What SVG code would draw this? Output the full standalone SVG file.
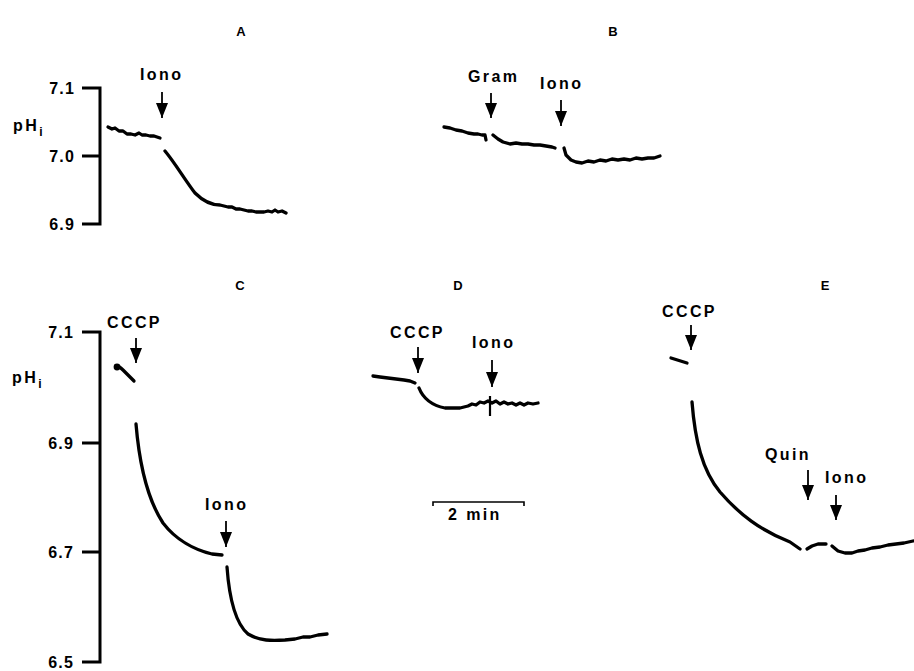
<svg xmlns="http://www.w3.org/2000/svg" width="914" height="671" viewBox="0 0 914 671">
<defs>
<marker id="ah" markerUnits="userSpaceOnUse" viewBox="0 -6 15 12" markerWidth="15" markerHeight="12" refX="15" refY="0" orient="auto">
<path d="M0,-6 L15,0 L0,6 z" fill="#000"/>
</marker>
<style>
.t{font-family:"Liberation Sans",Arial,sans-serif;font-weight:bold;font-size:16px;letter-spacing:2.4px;fill:#000}
.tk{font-family:"Liberation Sans",Arial,sans-serif;font-weight:bold;font-size:16px;letter-spacing:1.2px;fill:#000;text-anchor:end}
.pl{font-family:"Liberation Sans",Arial,sans-serif;font-weight:bold;font-size:13px;fill:#000;text-anchor:middle}
.ax{stroke:#000;stroke-width:3;fill:none}
.tr{stroke:#000;stroke-width:3.3;fill:none;stroke-linecap:round;stroke-linejoin:round}
.ar{stroke:#000;stroke-width:1.8;fill:none}
</style>
</defs>
<rect width="914" height="671" fill="#fff"/>

<g id="panelA">
<text class="pl" x="241" y="36">A</text>
<path class="ax" d="M82,88 H100 V224 H82 M82,156 H100"/>
<text class="tk" x="75" y="94">7.1</text>
<text class="tk" x="75" y="162">7.0</text>
<text class="tk" x="75" y="230">6.9</text>
<text class="t" x="13" y="131" letter-spacing="2">pH<tspan dy="5" font-size="12">i</tspan></text>
<path class="tr" d="M108,127 L112,129 L115,128 L119,131 L123,131 L127,134 L131,134 L135,135 L139,133 L142,135 L146,135 L150,136 L154,136 L157,137 L160,138"/>
<path class="tr" d="M165,151 C175,163 185,180 195,193 C203,201 212,205 220,205 L224,206 L228,207 L232,207 L236,209 L240,209 L244,210 L248,211 L252,211 L256,212 L260,212 L264,212 L268,211 L272,212 L275,210 L278,212 L282,211 L286,213"/>
<text class="t" x="140" y="80">Iono</text>
<line class="ar" x1="162" y1="92" x2="162" y2="118" marker-end="url(#ah)"/>
</g>

<g id="panelB">
<text class="pl" x="613" y="36">B</text>
<path class="tr" d="M444,127 L450,128 L456,130 L462,131 L468,133 L474,134 L478,134 L482,135 L485,135 L486,140"/>
<path class="tr" d="M493,135 L498,139 L503,142 L510,144 L516,143 L522,144 L528,144 L534,145 L540,145 L546,146 L552,147 L555,148"/>
<path class="tr" d="M564,148 L566,155 L571,160 L576,162 L582,163 L588,161 L594,162 L600,160 L606,161 L612,159 L618,160 L624,159 L630,160 L636,158 L642,159 L648,158 L654,158 L660,156"/>
<text class="t" x="468" y="82">Gram</text>
<line class="ar" x1="491" y1="93" x2="491" y2="118" marker-end="url(#ah)"/>
<text class="t" x="540" y="89">Iono</text>
<line class="ar" x1="561" y1="100" x2="561" y2="126" marker-end="url(#ah)"/>
</g>

<g id="panelC">
<text class="pl" x="240" y="290">C</text>
<path class="ax" d="M82,332 H100 V662 H82 M82,443 H100 M82,552 H100"/>
<text class="tk" x="74" y="338">7.1</text>
<text class="tk" x="74" y="449">6.9</text>
<text class="tk" x="74" y="558">6.7</text>
<text class="tk" x="74" y="668">6.5</text>
<text class="t" x="12" y="383" letter-spacing="2">pH<tspan dy="5" font-size="12">i</tspan></text>
<circle cx="117" cy="367" r="3.4" fill="#000"/>
<path class="tr" d="M116,366 C119,366 121,368 123,370 L127,374 L131,378 L134,381"/>
<path class="tr" d="M136,424 C139,460 146,497 163,523 C176,540 195,550 212,554 L222,555"/>
<path class="tr" d="M227,567 C229,595 234,622 248,634 C260,641 272,641 285,640 L295,639 L303,637 L310,637 L318,635 L327,634"/>
<text class="t" x="107" y="328">CCCP</text>
<line class="ar" x1="136" y1="338" x2="136" y2="363" marker-end="url(#ah)"/>
<text class="t" x="205" y="510">Iono</text>
<line class="ar" x1="226" y1="521" x2="226" y2="547" marker-end="url(#ah)"/>
</g>

<g id="panelD">
<text class="pl" x="458" y="290">D</text>
<path class="tr" d="M373,376 L380,377 L388,378 L396,379 L404,380 L410,381 L415,383"/>
<path class="tr" d="M419,388 C423,398 430,405 445,408 L460,408 L468,406 L472,404 L476,405 L480,402 L484,403 L488,401 L492,403 L496,401 L500,404 L504,402 L508,404 L512,403 L516,405 L520,403 L524,405 L528,403 L533,404 L538,403"/>
<line stroke="#000" stroke-width="2.2" x1="490" y1="396" x2="490" y2="416"/>
<text class="t" x="390" y="338">CCCP</text>
<line class="ar" x1="418" y1="347" x2="418" y2="373" marker-end="url(#ah)"/>
<text class="t" x="472" y="348">Iono</text>
<line class="ar" x1="492" y1="360" x2="492" y2="387" marker-end="url(#ah)"/>
<path stroke="#000" stroke-width="1.6" fill="none" d="M433,506 V502 H524 V506"/>
<text class="t" x="448" y="520" letter-spacing="1.2">2 min</text>
</g>

<g id="panelE">
<text class="pl" x="825" y="290">E</text>
<path class="tr" d="M671,358 L687,363"/>
<path class="tr" d="M692,402 C695,440 702,470 720,492 C740,515 760,530 790,542 L800,549"/>
<path class="tr" d="M807,549 L812,546 L818,544 L826,544"/>
<path class="tr" d="M832,546 L838,551 L845,553 L852,553 L858,551 L865,550 L872,548 L880,547 L888,545 L896,544 L904,543 L913,541"/>
<text class="t" x="662" y="317">CCCP</text>
<line class="ar" x1="691" y1="325" x2="691" y2="350" marker-end="url(#ah)"/>
<text class="t" x="765" y="460">Quin</text>
<line class="ar" x1="808" y1="470" x2="808" y2="500" marker-end="url(#ah)"/>
<text class="t" x="825" y="483">Iono</text>
<line class="ar" x1="836" y1="495" x2="836" y2="520" marker-end="url(#ah)"/>
</g>
</svg>
